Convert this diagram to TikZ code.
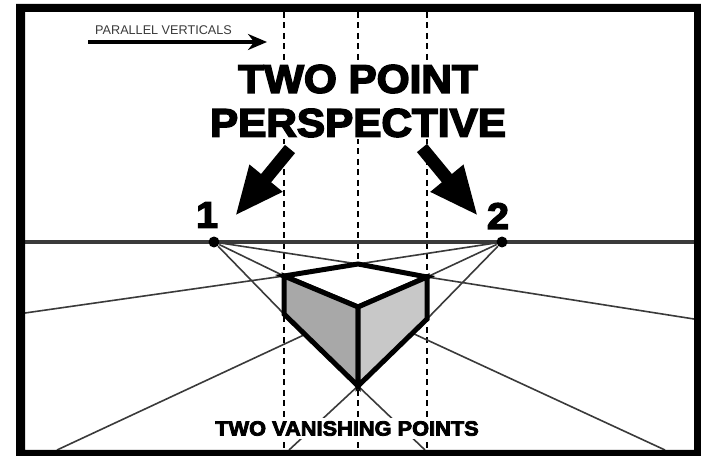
\documentclass[tikz,border=0pt]{standalone}
\usepackage{fontspec}
\setmainfont{Liberation Sans}
\newfontfamily\heavyfont[FakeBold=4,FakeStretch=1.06]{Liberation Sans Bold}
\usetikzlibrary{arrows.meta, positioning}
\definecolor{cleft}{HTML}{A8A8A8}
\definecolor{cright}{HTML}{C8C8C8}
\definecolor{chorizon}{HTML}{3A3A3A}
\tikzset{
  every picture/.style={x=0.02cm, y=-0.02cm},
  vertical/.style={draw=black, line width=0.42mm, dash pattern=on 1.2mm off 0.9mm},
  guide/.style={draw=chorizon, line width=0.32mm},
  horizon/.style={draw=chorizon, line width=0.62mm},
  edge/.style={draw=black, line width=1mm, line join=miter},
  vpoint/.style={circle, fill=black, inner sep=0pt, minimum size=2.2mm},
  bigarrow/.style={-{Triangle[length=9.8mm, width=7.8mm]}, draw=black, line width=2.6mm},
  title/.style={font=\heavyfont\fontsize{22.7}{26}\selectfont, fill=white, inner sep=1pt, align=center},
  number/.style={font=\heavyfont\fontsize{21}{24}\selectfont, inner sep=0pt},
  caption/.style={font=\heavyfont\fontsize{11.7}{13}\selectfont, fill=white, inner sep=2pt},
  note/.style={font=\fontsize{7.2}{9}\selectfont, text=chorizon, inner sep=0pt},
}
\begin{document}
\begin{tikzpicture}
  \useasboundingbox (0,0) rectangle (701,456);
  \fill[white] (0,0) rectangle (701,456);
  % points of the box
  \coordinate (back) at (358,264);
  \coordinate (topleft) at (284,276);
  \coordinate (topright) at (427,277);
  \coordinate (front) at (358,307);
  \coordinate (lowleft) at (284,314);
  \coordinate (lowright) at (427,319);
  \coordinate (low) at (358,386);
  % verticals
  \foreach \x/\name in {284/a, 358/b, 427/c} {
    \coordinate (\name top) at (\x,12);
    \coordinate (\name end) at (\x,450);
    \draw[vertical] (\name top) -- (\name end);
  }
  % horizon and vanishing points
  \coordinate (hleft) at (25,242);
  \coordinate (hright) at (694,242);
  \draw[horizon] (hleft) -- (hright);
  \node[vpoint] (vp1) at (214,242) {};
  \node[vpoint] (vp2) at (502,242) {};
  % guide lines
  \coordinate (edgel) at (25,313);
  \coordinate (edger) at (694,319);
  \coordinate (cornl) at (57,450);
  \coordinate (cornr) at (665,450);
  \coordinate (midl) at (306,334);
  \coordinate (midr) at (412,333);
  \coordinate (botl) at (289,450);
  \coordinate (botr) at (425,450);
  \draw[guide] (vp1) -- (back);
  \draw[guide] (vp1) -- (topleft);
  \draw[guide] (vp1) -- (lowleft);
  \draw[guide] (vp2) -- (back);
  \draw[guide] (vp2) -- (topright);
  \draw[guide] (vp2) -- (lowright);
  \draw[guide] (topleft) -- (edgel);
  \draw[guide] (topright) -- (edger);
  \draw[guide] (midl) -- (cornl);
  \draw[guide] (midr) -- (cornr);
  \draw[guide] (low) -- (botl);
  \draw[guide] (low) -- (botr);
  % box
  \filldraw[edge, fill=white] (topleft) -- (back) -- (topright) -- (front) -- cycle;
  \filldraw[edge, fill=cleft] (topleft) -- (front) -- (low) -- (lowleft) -- cycle;
  \filldraw[edge, fill=cright] (topright) -- (front) -- (low) -- (lowright) -- cycle;
  % texts
  \node[title] (heading) at (358,101) {TWO POINT\\[-1pt]PERSPECTIVE};
  \node[caption] (vanishing) at (347,428.5) {TWO VANISHING POINTS};
  \node[number] (one) at (207,215) {1};
  \node[number] (two) at (498,216) {2};
  % arrows
  \coordinate (tail1) at (290,149);
  \coordinate (tip1) at (235,216);
  \coordinate (tail2) at (422,148);
  \coordinate (tip2) at (478,216);
  \draw[bigarrow] (tail1) -- (tip1);
  \draw[bigarrow] (tail2) -- (tip2);
  \node[note] (parallel) at (163.5,30) {PARALLEL VERTICALS};
  \coordinate (from) at (88,42);
  \coordinate (to) at (267,42);
  \draw[-{Stealth[length=3.8mm, width=3.2mm]}, line width=0.9mm] (from) -- (to);
  % frame
  \fill[black, even odd rule] (16,4) rectangle (701,456) (25,12) rectangle (694,450);
\end{tikzpicture}
\end{document}
